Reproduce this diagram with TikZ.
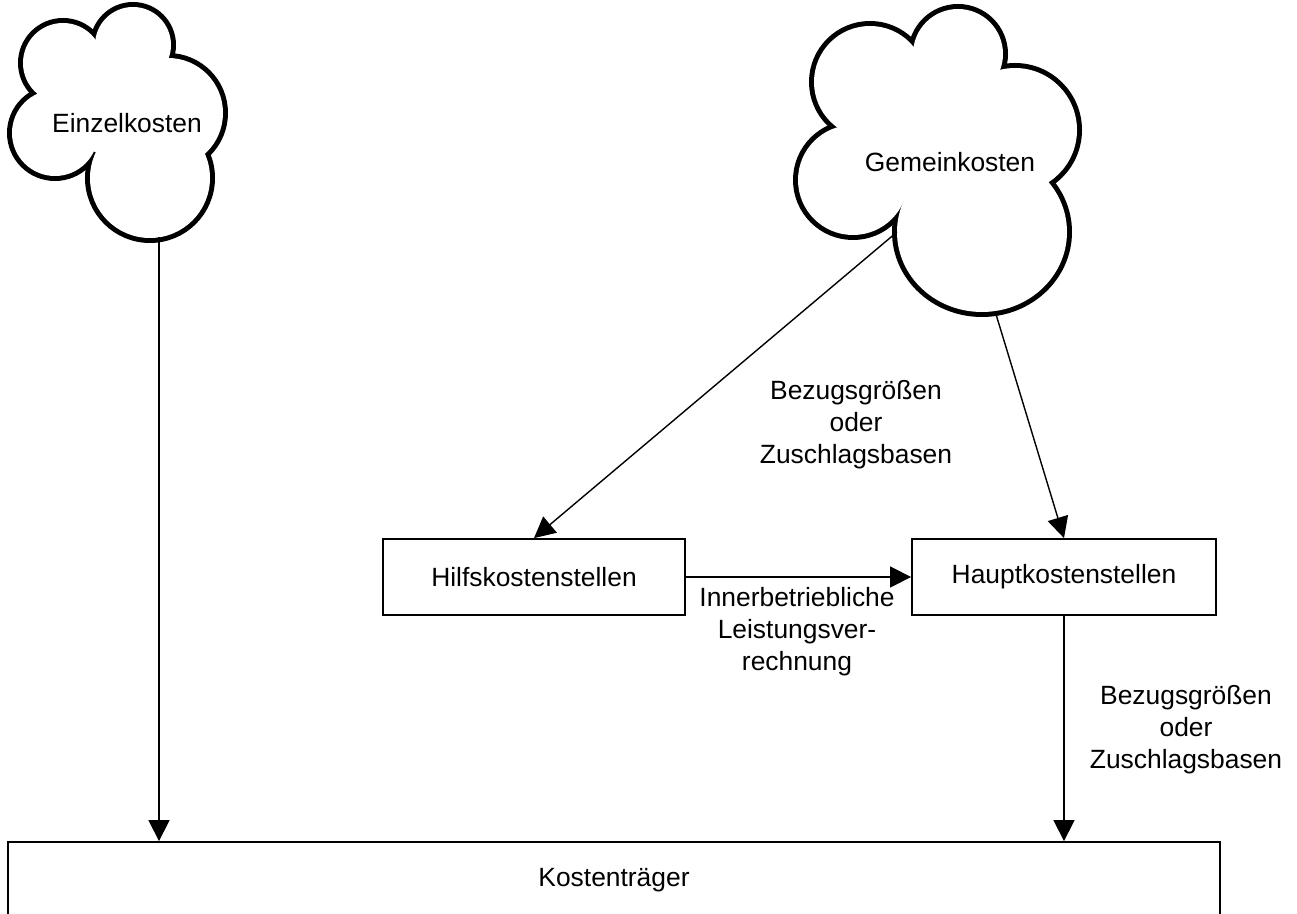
\documentclass[tikz,border=0pt]{standalone}
\usepackage{fontspec}
\setmainfont{Liberation Sans}
\usetikzlibrary{arrows.meta}

\begin{document}
\begin{tikzpicture}[x=0.5pt,y=0.5pt,
    every node/.style={font=\fontsize{13.2}{16}\selectfont},
    box/.style={draw,line width=0.9pt,minimum width=151pt,minimum height=38pt,inner sep=0pt},
    flow/.style={line width=0.7pt,-{Triangle[length=10.5pt,width=10.5pt]}},
    lbl/.style={align=center,inner sep=0pt}]
    \useasboundingbox (0,0) rectangle (1297,-914);
    \foreach \cx/\cy/\rx/\ry in {63/63/40/40, 133/45/38/38, 168/113/55/55, 150/178/60/60, 55/133/43/43,
      870/82/56/56, 958/54/45/45, 1015/130/62/62, 982/232/85/80, 853/180/55/55}
      \draw[line width=5pt] (\cx,-\cy) ellipse[x radius=\rx,y radius=\ry];
    \foreach \cx/\cy/\rx/\ry in {63/63/40/40, 133/45/38/38, 168/113/55/55, 150/178/60/60, 55/133/43/43,
      870/82/56/56, 958/54/45/45, 1015/130/62/62, 982/232/85/80, 853/180/55/55}
      \fill[white] (\cx,-\cy) ellipse[x radius=\rx,y radius=\ry];
    \fill[white] (63,-63) -- (133,-45) -- (168,-113) -- (150,-178) -- (55,-133) -- cycle;
    \fill[white] (870,-82) -- (958,-54) -- (1015,-130) -- (982,-232) -- (853,-180) -- cycle;
    \node (einzel) at (127,-123) {Einzelkosten};
    \node (gemein) at (950,-162) {Gemeinkosten};
    \coordinate (einzel out) at (159,-237);
    \coordinate (gemein sw) at (897,-232);
    \coordinate (gemein s) at (995,-311);
    \node[box] (hilfs) at (534,-577) {Hilfskostenstellen};
    \node[box,minimum width=152pt] (haupt) at (1064,-577) {Hauptkostenstellen};
    \node[box,minimum width=606pt] (kosten) at (614,-880) {Kostenträger};
    \draw[flow] (einzel out) -- (einzel out |- kosten.north);
    \draw[flow] (gemein sw) -- (hilfs.north);
    \draw[flow] (gemein s) -- (haupt.north);
    \draw[flow] (hilfs) -- (haupt);
    \draw[flow] (haupt) -- (haupt |- kosten.north);
    \node[lbl] (bezug1) at (856,-425) {Bezugsgrößen\\oder\\Zuschlagsbasen};
    \node[lbl] (ilv) at (797,-632) {Innerbetriebliche\\Leistungsver-\\rechnung};
    \node[lbl] (bezug2) at (1186,-730) {Bezugsgrößen\\oder\\Zuschlagsbasen};
\end{tikzpicture}
\end{document}
